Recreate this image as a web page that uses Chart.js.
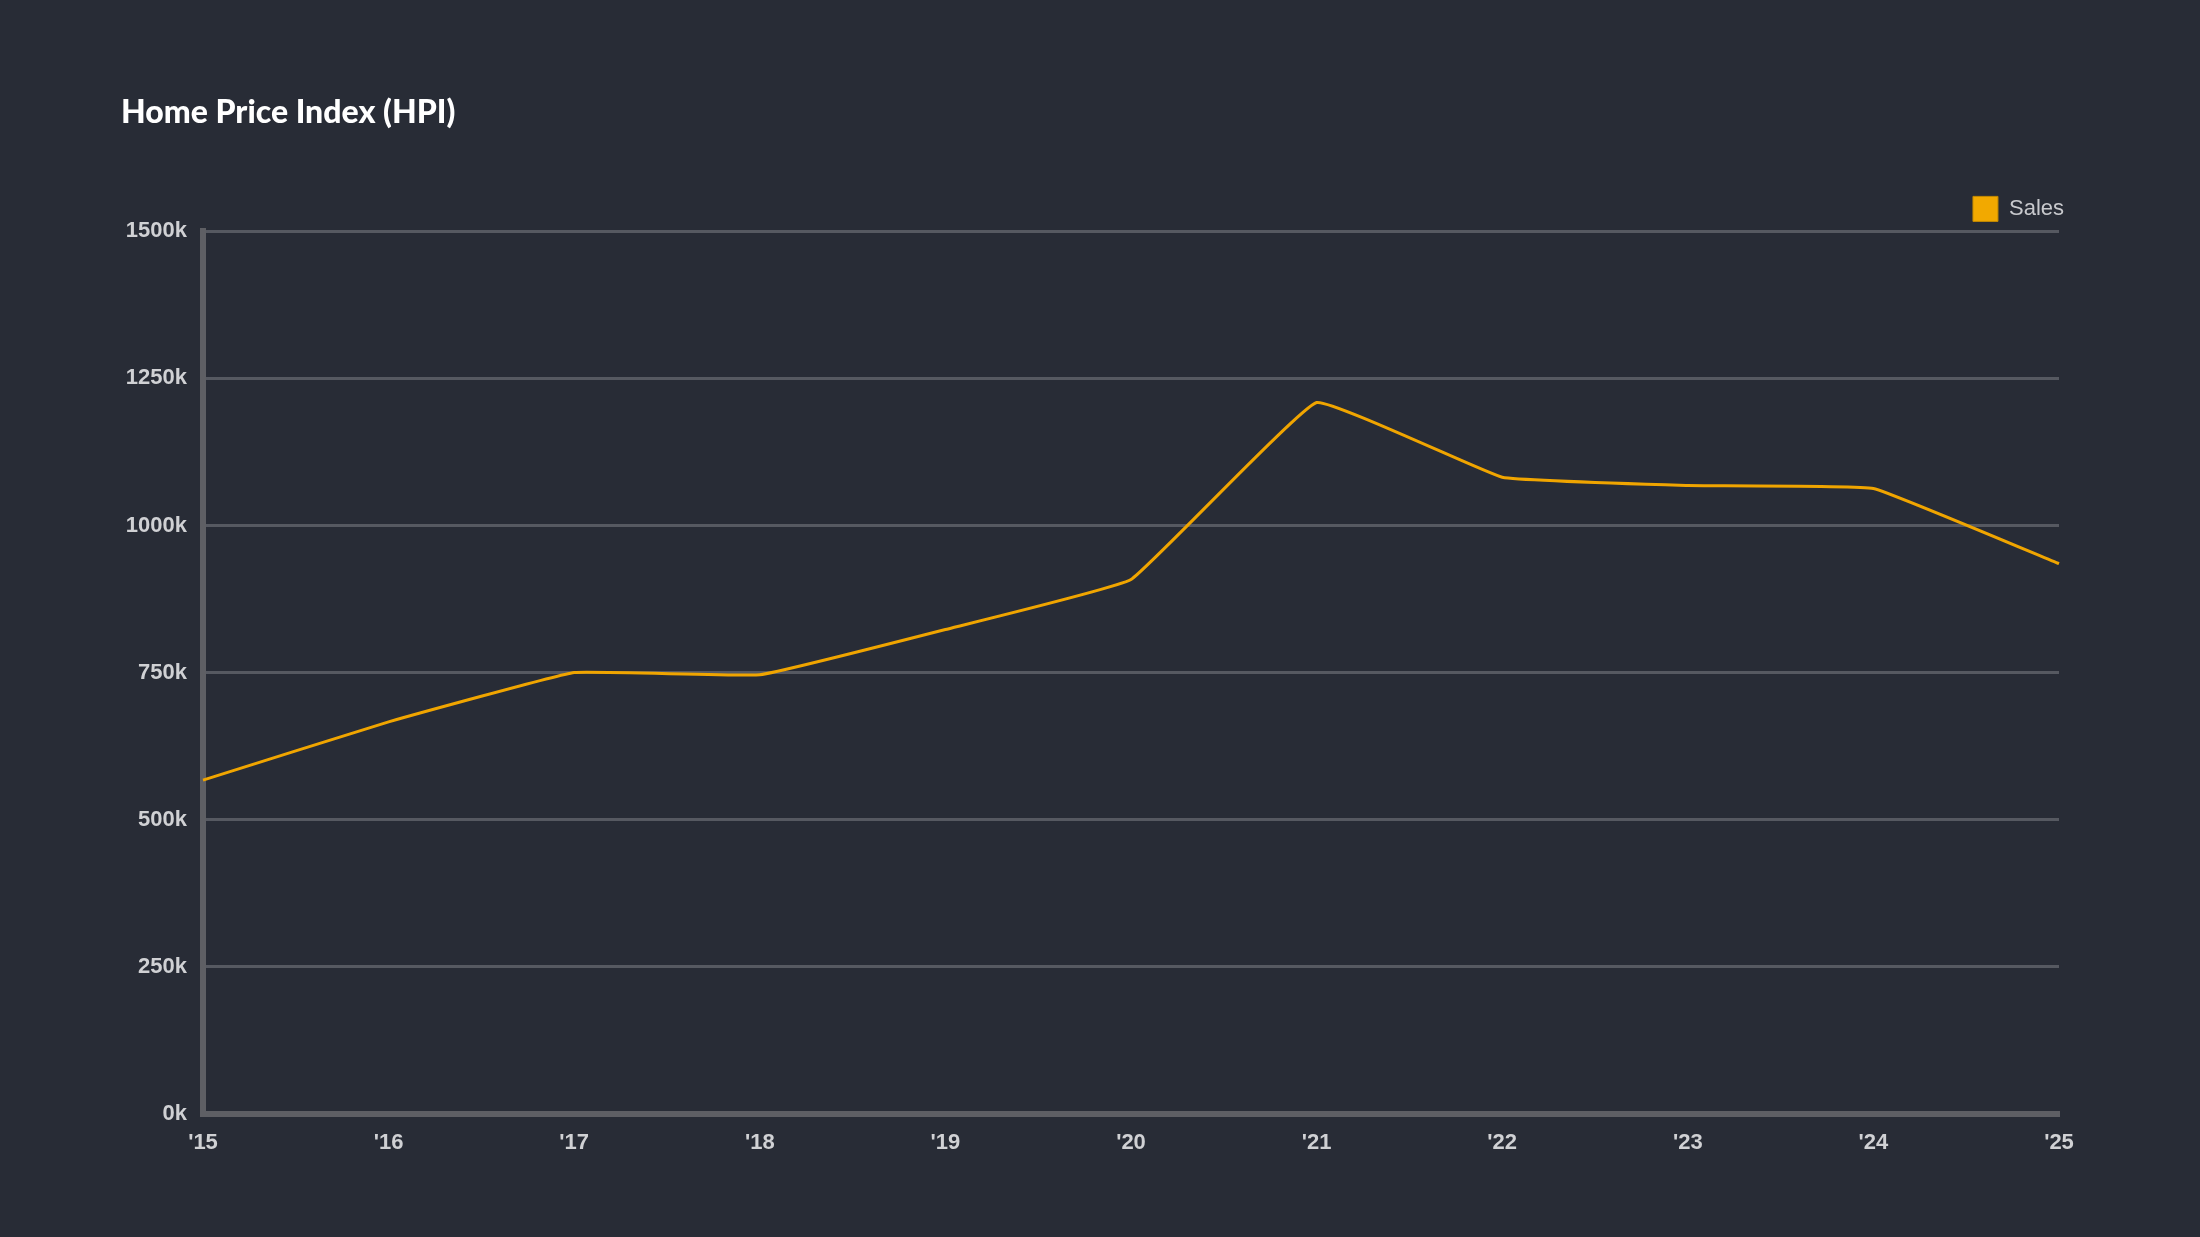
<!DOCTYPE html>
<html>
<head>
<meta charset="utf-8">
<script src="https://cdn.jsdelivr.net/npm/chart.js@4"></script>
<style>
  html, body { margin: 0; padding: 0; background: #282c36; }
  #wrap { width: 2200px; height: 1237px; }
</style>
</head>
<body>
<div id="wrap"><canvas id="hpi" width="2200" height="1237"></canvas></div>
<script>
// years on the x axis
const years = ["'15", "'16", "'17", "'18", "'19", "'20", "'21", "'22", "'23", "'24", "'25"];
// sales, in thousands
const sales = [567, 666, 750, 746, 823, 908, 1209, 1082, 1068, 1063, 935];
const yTicks = [0, 250, 500, 750, 1000, 1250, 1500];

const bg = {
    id: 'bg',
    beforeDraw(chart) {
        const c = chart.ctx;
        c.save();
        c.fillStyle = '#282c36';
        c.fillRect(0, 0, chart.width, chart.height);
        c.restore();
    }
};

const ctx = document.getElementById('hpi');

const chart = new Chart(ctx, {
    type: 'line',
    data: {
        labels: years,
        datasets: [{
            label: 'Sales',
            data: sales,
            borderColor: '#f0a500',
            backgroundColor: '#f2a900',
            borderWidth: 3,
            pointRadius: 0,
            fill: false,
            tension: 0.08
        }]
    },
    options: {
        responsive: false,
        devicePixelRatio: 1,
        animation: false,
        layout: {
            padding: { left: 121, right: 120, top: 40, bottom: 65 }
        },
        plugins: {
            title: {
                display: true,
                text: 'Home Price Index (HPI)',
                align: 'start',
                color: '#ffffff',
                font: { family: 'Lato', size: 32, weight: 900 },
                padding: { top: 53, bottom: 49 }
            },
            legend: {
                position: 'top',
                align: 'end',
                labels: {
                    boxWidth: 25,
                    boxHeight: 25,
                    padding: 16,
                    color: '#c8c9cd',
                    font: { family: 'Liberation Sans', size: 22 },
                    generateLabels: (c) => [{
                        text: 'Sales',
                        fillStyle: '#f2a900',
                        strokeStyle: '#c48a00',
                        fontColor: '#c8c9cd',
                        lineWidth: 1,
                        datasetIndex: 0
                    }]
                }
            },
            tooltip: { enabled: false }
        },
        scales: {
            x: {
                grid: { display: false, drawTicks: false },
                border: { display: true, color: '#5e5f64', width: 6 },
                ticks: {
                    color: '#d0d1d4',
                    padding: 16,
                    maxRotation: 0,
                    autoSkip: false,
                    font: { family: 'Liberation Sans', size: 22, weight: 'bold' }
                },
                afterFit: (s) => { s.paddingRight = 141; }
            },
            y: {
                min: 0,
                max: 1500,
                afterBuildTicks: (s) => { s.ticks = yTicks.map(v => ({ value: v })); },
                grid: { color: '#565961', lineWidth: 3, drawTicks: false },
                border: { display: true, color: '#5e5f64', width: 6 },
                ticks: {
                    color: '#d0d1d4',
                    padding: 16,
                    font: { family: 'Liberation Sans', size: 22, weight: 'bold' },
                    callback: (v) => v + 'k'
                },
                afterFit: (s) => { s.width = 82; }
            }
        }
    },
    plugins: [bg]
});
</script>
</body>
</html>
